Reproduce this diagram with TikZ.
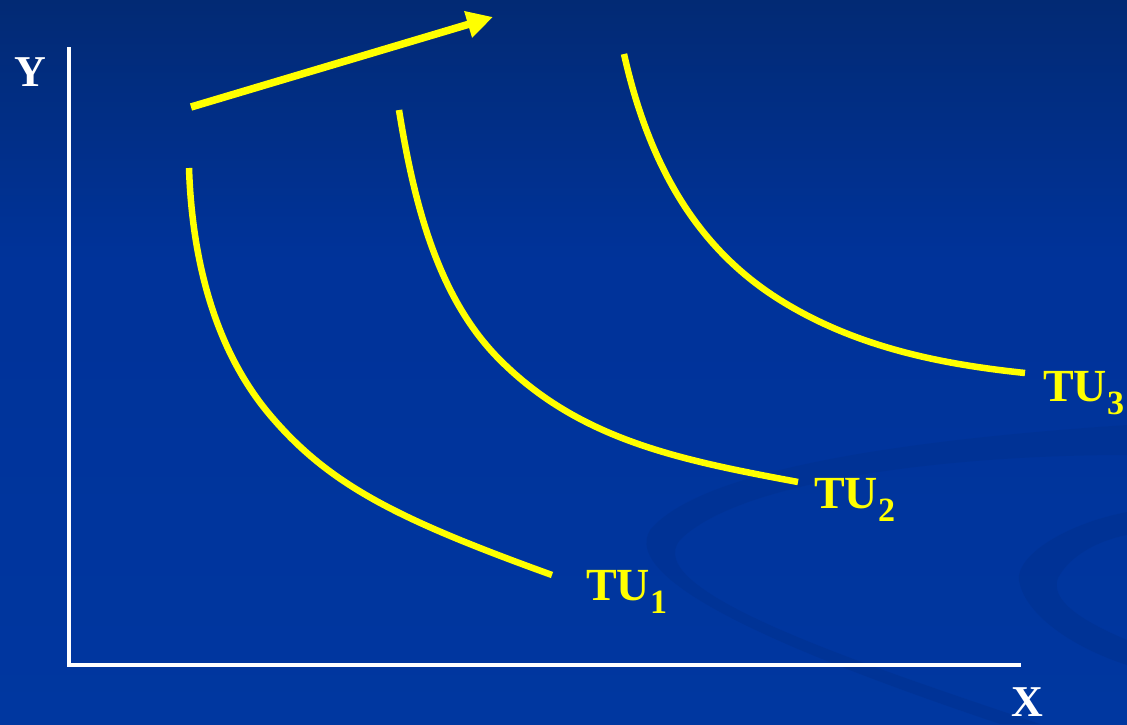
\documentclass[tikz,border=0pt]{standalone}
\usepackage{fontspec}
\setmainfont{Liberation Serif}
\usetikzlibrary{arrows.meta}
\definecolor{bgtop}{HTML}{022A74}
\definecolor{bgmid}{HTML}{00339A}
\definecolor{bgbot}{HTML}{0037A0}
\definecolor{swirl}{HTML}{00318F}
\definecolor{curvey}{HTML}{FFFF00}
\newcommand{\mysub}[1]{\raisebox{-13pt}{\fontsize{34}{34}\selectfont #1}}
\tikzset{
  axis/.style={draw=white, line width=3.5pt},
  curve/.style={draw=curvey, line width=6.5pt},
  axlabel/.style={text=white, font=\fontsize{44}{44}\selectfont\bfseries, inner sep=0pt},
  tulabel/.style={text=curvey, font=\fontsize{46}{46}\selectfont\bfseries, inner sep=0pt, anchor=base west},
}
\begin{document}
\begin{tikzpicture}[x=1pt,y=-1pt]
\useasboundingbox (0,0) rectangle (1127,724);
\fill[bgbot] (0,0) rectangle (1127,724);
\shade[top color=bgtop, bottom color=bgmid] (0,0) rectangle (1127,260);
\fill[bgmid] (0,259) rectangle (1127,330);
\shade[top color=bgmid, bottom color=bgbot] (0,329) rectangle (1127,724);
% background swirls
\fill[swirl, opacity=0.5] (1127,425) .. controls (900,440) and (700,470) .. (650,530)
  .. controls (620,580) and (780,650) .. (1000,724) -- (1040,724)
  .. controls (850,660) and (640,590) .. (680,540)
  .. controls (740,480) and (950,455) .. (1127,455) -- cycle;
\fill[swirl, opacity=0.5] (1127,512) .. controls (1060,525) and (1010,560) .. (1020,585)
  .. controls (1030,620) and (1080,650) .. (1127,665) -- (1127,640)
  .. controls (1080,620) and (1050,600) .. (1058,578)
  .. controls (1070,555) and (1100,540) .. (1127,535) -- cycle;
% axes
\coordinate (ytop) at (69,47);
\coordinate (origin) at (69,665);
\coordinate (xend) at (1021,665);
\draw[axis] (ytop) -- (origin) -- (xend);
\node[axlabel] (ylab) at (30,72) {Y};
\node[axlabel] (xlab) at (1027,702) {X};
% arrow
\coordinate (as) at (191,107);
\coordinate (ae) at (493,17);
\draw[draw=curvey, fill=curvey, line width=7.5pt, -{Triangle[length=26pt,width=26pt]}] (as) -- (ae);
% curves
\coordinate (c1s) at (189,168); \coordinate (c1e) at (552,575);
\coordinate (c2s) at (399,110); \coordinate (c2e) at (798,482);
\coordinate (c3s) at (624,54);  \coordinate (c3e) at (1025,373);
\draw[curve] (c1s) .. controls (192,260) and (215,350) .. (270,415) .. controls (330,486) and (400,520) .. (c1e);
\draw[curve] (c2s) .. controls (415,210) and (440,300) .. (500,360) .. controls (580,440) and (680,460) .. (c2e);
\draw[curve] (c3s) .. controls (650,170) and (700,250) .. (780,300) .. controls (860,350) and (950,365) .. (c3e);
% labels
\node[tulabel] (tu1) at (586,600) {TU\mysub{1}};
\node[tulabel] (tu2) at (814,508) {TU\mysub{2}};
\node[tulabel] (tu3) at (1043,401) {TU\mysub{3}};
\end{tikzpicture}
\end{document}
